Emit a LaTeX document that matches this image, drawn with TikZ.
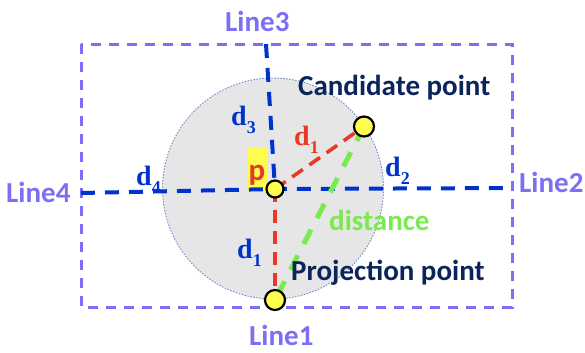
\documentclass[tikz,border=0pt]{standalone}
\usepackage{fontspec}
\setmainfont{Carlito}
\newfontfamily\dfont{Liberation Serif}
\definecolor{rectc}{RGB}{123,111,245}
\definecolor{bluec}{RGB}{0,51,204}
\definecolor{redc}{RGB}{234,56,40}
\definecolor{greenc}{RGB}{122,235,76}
\definecolor{navyc}{RGB}{12,36,92}
\definecolor{yelc}{RGB}{255,252,80}
\definecolor{circc}{RGB}{230,230,230}
\definecolor{circb}{RGB}{110,140,200}
\tikzset{
  lbl/.style={font=\fontsize{29bp}{31bp}\selectfont\bfseries, inner sep=0pt, anchor=base west},
  dlbl/.style={font=\fontsize{28bp}{30bp}\selectfont\dfont\bfseries, inner sep=0pt, anchor=base west},
  rectline/.style={rectc, line width=3bp, dash pattern=on 10bp off 8bp},
  blueline/.style={bluec, line width=4bp, dash pattern=on 14bp off 10bp},
  redline/.style={redc, line width=3.6bp, dash pattern=on 13bp off 8bp},
  greenline/.style={greenc, line width=5bp, dash pattern=on 16bp off 13bp},
  ptc/.style={circle, draw=black, line width=2.2bp, fill=yelc, inner sep=0pt},
}
\newcommand{\dsub}[1]{d\raisebox{-0.3em}{\fontsize{18bp}{19bp}\selectfont #1}}
\begin{document}
\begin{tikzpicture}[x=1bp,y=-1bp]
\useasboundingbox (0,0) rectangle (585,352);
% circle region
\fill[circc] (273,188.5) circle (110.5);
\draw[circb, line width=0.9bp, dash pattern=on 1.5bp off 1.5bp] (273,188.5) circle (110.5);
% rectangle
\draw[rectline] (81,44) rectangle (512,307);
% yellow box behind p
\fill[yelc] (248,148) rectangle (267,192);
\node[lbl, text=redc, font=\fontsize{31bp}{33bp}\selectfont\bfseries] (plbl) at (248.5,180) {p};
% point nodes
\coordinate (P) at (275,189);
\coordinate (C) at (364,126.5);
\coordinate (J) at (275,300);
\coordinate (L3) at (266,44);
\coordinate (L4) at (81,193);
\coordinate (L2) at (512,188);
% lines
\draw[blueline] (L3) -- (P);
\draw[blueline] (L4) -- (P) -- (L2);
\draw[redline] (P) -- (C);
\draw[redline] (P) -- (J);
\draw[greenline] (C) -- (J);
% points
\node[ptc, minimum size=17bp] (Pn) at (P) {};
\node[ptc, minimum size=20bp] (Cn) at (C) {};
\node[ptc, minimum size=20bp] (Jn) at (J) {};
% labels
\node[lbl, text=rectc] (t3) at (225,31) {Line3};
\node[lbl, text=rectc] (t4) at (6,202) {Line4};
\node[lbl, text=rectc] (t2) at (519,192) {Line2};
\node[lbl, text=rectc] (t1) at (249,345) {Line1};
\node[lbl, text=navyc] (tc) at (298,95) {Candidate point};
\node[lbl, text=navyc] (tj) at (291,280) {Projection point};
\node[lbl, text=greenc] (td) at (329,230) {distance};
\node[dlbl, text=bluec] (d3) at (231,125) {\dsub{3}};
\node[dlbl, text=bluec] (d4) at (136,185) {\dsub{4}};
\node[dlbl, text=bluec] (d2) at (385,176) {\dsub{2}};
\node[dlbl, text=redc] (d1r) at (294,145) {\dsub{1}};
\node[dlbl, text=bluec] (d1b) at (237,258) {\dsub{1}};
\end{tikzpicture}
\end{document}
